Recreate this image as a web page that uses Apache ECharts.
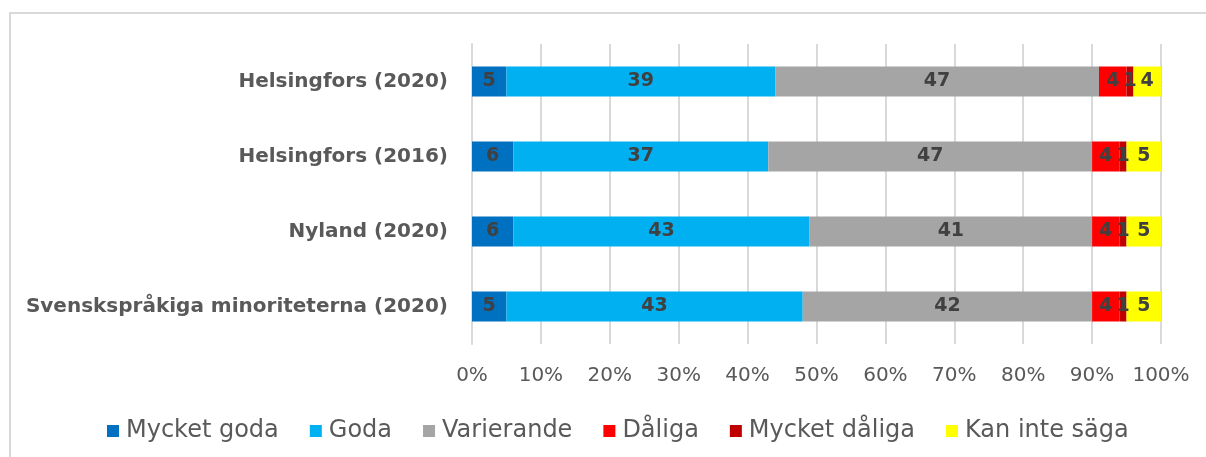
<!DOCTYPE html>
<html>
<head>
<meta charset="utf-8">
<script src="https://cdn.jsdelivr.net/npm/echarts@6/dist/echarts.min.js"></script>
<style>
  html, body { margin: 0; padding: 0; background: #fff; overflow: hidden; }
  #frame { position: absolute; left: 9px; top: 12px; width: 1197px; height: 445px;
           border-left: 2px solid #d9d9d9; border-top: 2px solid #d9d9d9; box-sizing: border-box; }
  #chart { position: absolute; left: 0; top: 0; width: 1206px; height: 457px; }
</style>
</head>
<body>
<div id="frame"></div>
<div id="chart"></div>
<script>
// categories, top to bottom
var categories = ['Helsingfors (2020)', 'Helsingfors (2016)', 'Nyland (2020)', 'Svenskspråkiga minoriteterna (2020)'];
var seriesNames = ['Mycket goda', 'Goda', 'Varierande', 'Dåliga', 'Mycket dåliga', 'Kan inte säga'];
var seriesColors = ['#0070C0', '#00B0F0', '#A5A5A5', '#FF0000', '#C00000', '#FFFF00'];

var mycketGoda = [5, 6, 6, 5];
var goda = [39, 37, 43, 43];
var varierande = [47, 47, 41, 42];
var daliga = [4, 4, 4, 4];
var mycketDaliga = [1, 1, 1, 1];
var kanInteSaga = [4, 5, 5, 5];

var values = [mycketGoda, goda, varierande, daliga, mycketDaliga, kanInteSaga];
var fontFam = '"DejaVu Sans", "Noto Sans", sans-serif';

var myChart = echarts.init(document.getElementById('chart'));

var series = seriesNames.map(function (name, i) {
    return {
        name: name,
        type: 'bar',
        stack: 'total',
        barWidth: 30,
        itemStyle: { color: seriesColors[i] },
        label: {
            show: true,
            position: 'inside',
            color: '#404040',
            fontWeight: 'bold',
            fontSize: 19,
            fontFamily: fontFam
        },
        data: values[i]
    };
});

var option = {
    backgroundColor: 'transparent',
    animation: false,
    grid: {
        left: 472,
        right: 45,
        top: 44,
        height: 300
    },
    legend: {
        data: seriesNames,
        bottom: 9,
        left: 102,
        icon: 'rect',
        itemWidth: 12,
        itemHeight: 12,
        itemGap: 31,
        textStyle: {
            color: '#595959',
            fontSize: 24,
            fontFamily: fontFam,
            padding: [0, 0, 0, 2]
        }
    },
    xAxis: {
        type: 'value',
        min: 0,
        max: 100,
        interval: 10,
        axisLine: { show: false },
        axisTick: { show: false },
        splitLine: { lineStyle: { color: '#d9d9d9', width: 2 } },
        axisLabel: {
            formatter: '{value}%',
            color: '#595959',
            fontSize: 20,
            margin: 22,
            fontFamily: fontFam
        }
    },
    yAxis: {
        type: 'category',
        data: categories,
        inverse: true,
        axisLine: { show: true, lineStyle: { color: '#d9d9d9', width: 2 } },
        axisTick: { show: false },
        axisLabel: {
            color: '#595959',
            fontWeight: 'bold',
            fontSize: 20,
            margin: 24,
            fontFamily: fontFam
        }
    },
    series: series
};

myChart.setOption(option);
</script>
</body>
</html>
